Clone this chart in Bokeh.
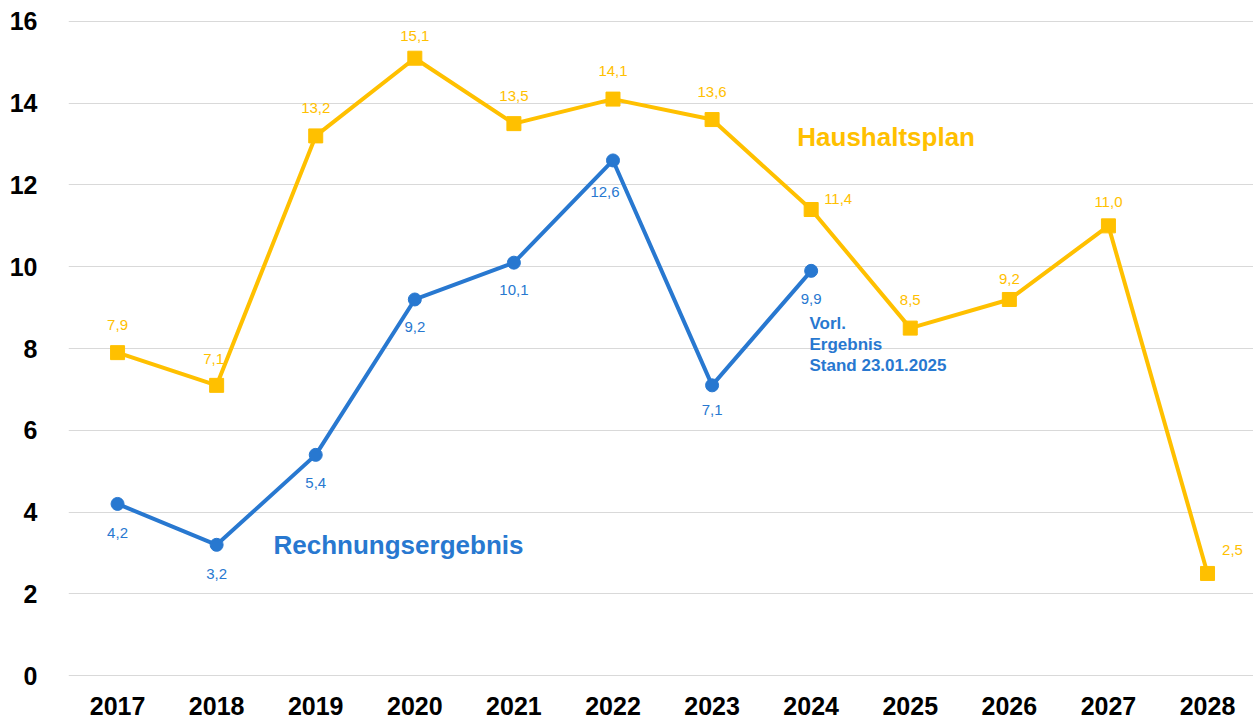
from bokeh.plotting import figure
from bokeh.models import Range1d, FixedTicker, ColumnDataSource
from bokeh.core.properties import value
from bokeh.embed import file_html
from bokeh.resources import INLINE

# ---- data ----
years = [2017, 2018, 2019, 2020, 2021, 2022, 2023, 2024, 2025, 2026, 2027, 2028]
year_labels = ["2017", "2018", "2019", "2020", "2021", "2022", "2023", "2024",
               "2025", "2026", "2027", "2028"]
plan_values = [7.9, 7.1, 13.2, 15.1, 13.5, 14.1, 13.6, 11.4, 8.5, 9.2, 11.0, 2.5]
result_years = [2017, 2018, 2019, 2020, 2021, 2022, 2023, 2024]
result_values = [4.2, 3.2, 5.4, 9.2, 10.1, 12.6, 7.1, 9.9]
y_ticks = [0, 2, 4, 6, 8, 10, 12, 14, 16]

ORANGE = "#FFC000"
BLUE = "#2878D0"
FONT = "Liberation Sans"

def fmt(v):
    return f"{v:.1f}".replace(".", ",")

p = figure(frame_width=1185, frame_height=660,
           x_range=Range1d(2016.505, 2028.464), y_range=Range1d(-0.02, 16.12),
           output_backend="svg", toolbar_location=None,
           min_border_left=68, min_border_right=0, min_border_top=16,
           min_border_bottom=44)
p.outline_line_color = None
p.background_fill_color = "white"
p.border_fill_color = "white"

# axes
p.xaxis.ticker = FixedTicker(ticks=years)
p.xaxis.major_label_overrides = {y: l for y, l in zip(years, year_labels)}
p.yaxis.ticker = FixedTicker(ticks=y_ticks)
for ax in (p.xaxis, p.yaxis):
    ax.axis_line_color = None
    ax.major_tick_line_color = None
    ax.minor_tick_line_color = None
    ax.major_label_text_font = FONT
    ax.major_label_text_font_style = "bold"
    ax.major_label_text_font_size = "25px"
    ax.major_label_text_color = "#000000"
p.xaxis.major_label_standoff = 14
p.yaxis.major_label_standoff = 25

p.xgrid.grid_line_color = None
p.ygrid.grid_line_color = "#D9D9D9"
p.ygrid.grid_line_width = 1

# series
plan_src = ColumnDataSource(dict(
    x=years, y=plan_values, t=[fmt(v) for v in plan_values],
    xo=[0, -3, 0, 0, 0, 0, 0, 27, 0, 0, 0, 25],
    yo=[-28, -26, -28, -22, -28, -28, -28, -11, -28, -20, -24, -23]))
res_src = ColumnDataSource(dict(
    x=result_years, y=result_values, t=[fmt(v) for v in result_values],
    xo=[0, 0, 0, 0, 0, -8, 0, 0],
    yo=[29, 29, 28, 28, 27, 32, 25, 28]))

p.line("x", "y", source=plan_src, line_color=ORANGE, line_width=4)
p.scatter("x", "y", source=plan_src, marker="square", size=14,
          fill_color=ORANGE, line_color=ORANGE)
p.line("x", "y", source=res_src, line_color=BLUE, line_width=4)
p.scatter("x", "y", source=res_src, marker="circle", size=13,
          fill_color=BLUE, line_color=BLUE)

p.text("x", "y", text="t", source=plan_src, x_offset="xo", y_offset="yo",
       text_color=ORANGE, text_font=value(FONT), text_font_size="15px",
       text_align="center", text_baseline="middle")
p.text("x", "y", text="t", source=res_src, x_offset="xo", y_offset="yo",
       text_color=BLUE, text_font=value(FONT), text_font_size="15px",
       text_align="center", text_baseline="middle")

# series names / notes
p.text(x=[2023.86], y=[13.17], text=["Haushaltsplan"], text_color=ORANGE,
       text_font=value(FONT), text_font_style="bold", text_font_size="26px",
       text_align="left", text_baseline="middle")
p.text(x=[2018.574], y=[3.2], text=["Rechnungsergebnis"], text_color=BLUE,
       text_font=value(FONT), text_font_style="bold", text_font_size="26px",
       text_align="left", text_baseline="middle")
p.text(x=[2023.983], y=[8.85], text=["Vorl.\nErgebnis\nStand 23.01.2025"],
       text_color=BLUE, text_font=value(FONT), text_font_style="bold",
       text_font_size="17px", text_align="left", text_baseline="top",
       text_line_height=1.1)

open("out.html", "w").write(file_html(p, INLINE))
